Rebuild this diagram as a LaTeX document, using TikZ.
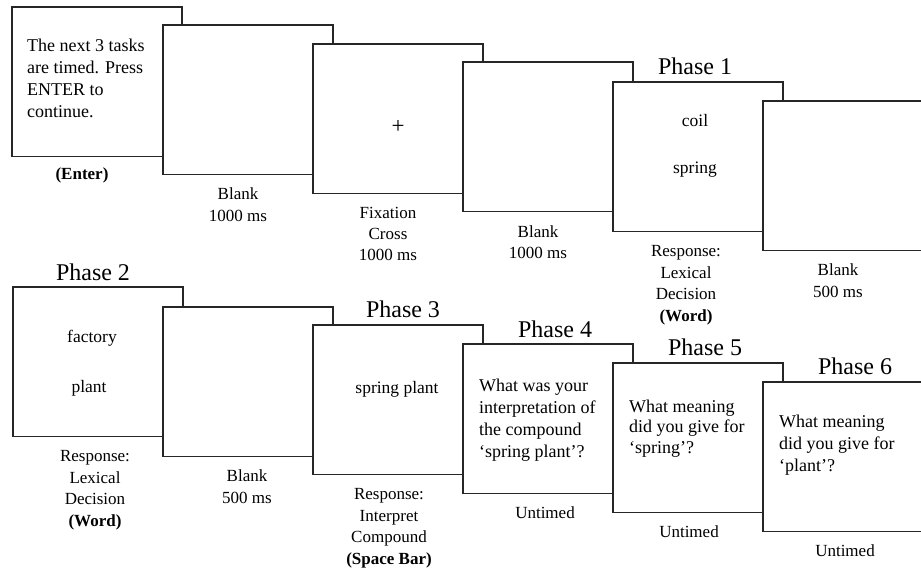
\documentclass[tikz,border=0pt]{standalone}
\usepackage{fontspec}
\setmainfont{Liberation Serif}
\begin{document}
\begin{tikzpicture}[x=1pt,y=-1pt,
  scr/.style={draw=black!85, line width=1.5pt, fill=white, minimum width=170pt, minimum height=149.5pt, inner sep=0pt, outer sep=0pt, anchor=north west},
  lbl/.style={align=center, anchor=base, inner sep=0pt, font=\fontsize{17}{21.5}\selectfont},
  body/.style={align=left, anchor=base west, inner sep=0pt, font=\fontsize{18}{22}\selectfont},
  word/.style={anchor=base, inner sep=0pt, font=\fontsize{17.5}{22}\selectfont},
  phase/.style={anchor=base, inner sep=0pt, font=\fontsize{24}{28}\selectfont}]
\useasboundingbox (0,0) rectangle (921,572);
\clip (0,0) rectangle (921,572);
% screens, drawn in order so each covers the one before
\node[scr] (b1) at (12,7) {};
\node[scr] (b2) at (163,25) {};
\node[scr] (b3) at (313,44) {};
\node[scr] (b4) at (463,62) {};
\node[scr] (b5) at (613,82) {};
\node[scr] (b6) at (763,101) {};
\node[scr] (b7) at (13,287) {};
\node[scr] (b8) at (163,307) {};
\node[scr] (b9) at (313,325) {};
\node[scr] (b10) at (463,344) {};
\node[scr] (b11) at (613,363) {};
\node[scr] (b12) at (763,382) {};
% top row texts (multi-line nodes: base = last line)
\node[body] (t1) at (27,118) {The next 3 tasks\\are timed. Press\\ENTER to\\continue.};
\node[lbl] (l1) at (82,180) {\textbf{(Enter)}};
\node[lbl] (l2) at (238,221.5) {Blank\\1000 ms};
\node[word, font=\fontsize{23}{26}\selectfont] (t3) at (398,134) {+};
\node[lbl] (l3) at (388,261) {Fixation\\Cross\\1000 ms};
\node[lbl] (l4) at (538,258.5) {Blank\\1000 ms};
\node[phase] (p1) at (695,75) {Phase 1};
\node[word] (t5a) at (695,127) {coil};
\node[word] (t5b) at (695,174) {spring};
\node[lbl] (l5) at (686,321) {Response:\\Lexical\\Decision\\\textbf{(Word)}};
\node[lbl] (l6) at (838,297) {Blank\\500 ms};
% bottom row texts
\node[phase] (p2) at (93,280) {Phase 2};
\node[word] (t7a) at (92,342) {factory};
\node[word] (t7b) at (89,392) {plant};
\node[lbl] (l7) at (95,526) {Response:\\Lexical\\Decision\\\textbf{(Word)}};
\node[lbl] (l8) at (247,503) {Blank\\500 ms};
\node[phase] (p3) at (403,317) {Phase 3};
\node[word] (t9) at (397,393) {spring plant};
\node[lbl] (l9) at (389,564) {Response:\\Interpret\\Compound\\\textbf{(Space Bar)}};
\node[phase] (p4) at (555,337) {Phase 4};
\node[body] (t10) at (479,457) {What was your\\interpretation of\\the compound\\‘spring plant’?};
\node[lbl] (l10) at (545,518) {Untimed};
\node[phase] (p5) at (705,355) {Phase 5};
\node[body, font=\fontsize{18}{20.5}\selectfont] (t11) at (629,453) {What meaning\\did you give for\\‘spring’?};
\node[lbl] (l11) at (689,537) {Untimed};
\node[phase] (p6) at (855,374) {Phase 6};
\node[body] (t12) at (779,471) {What meaning\\did you give for\\‘plant’?};
\node[lbl] (l12) at (845,556) {Untimed};
\end{tikzpicture}
\end{document}
